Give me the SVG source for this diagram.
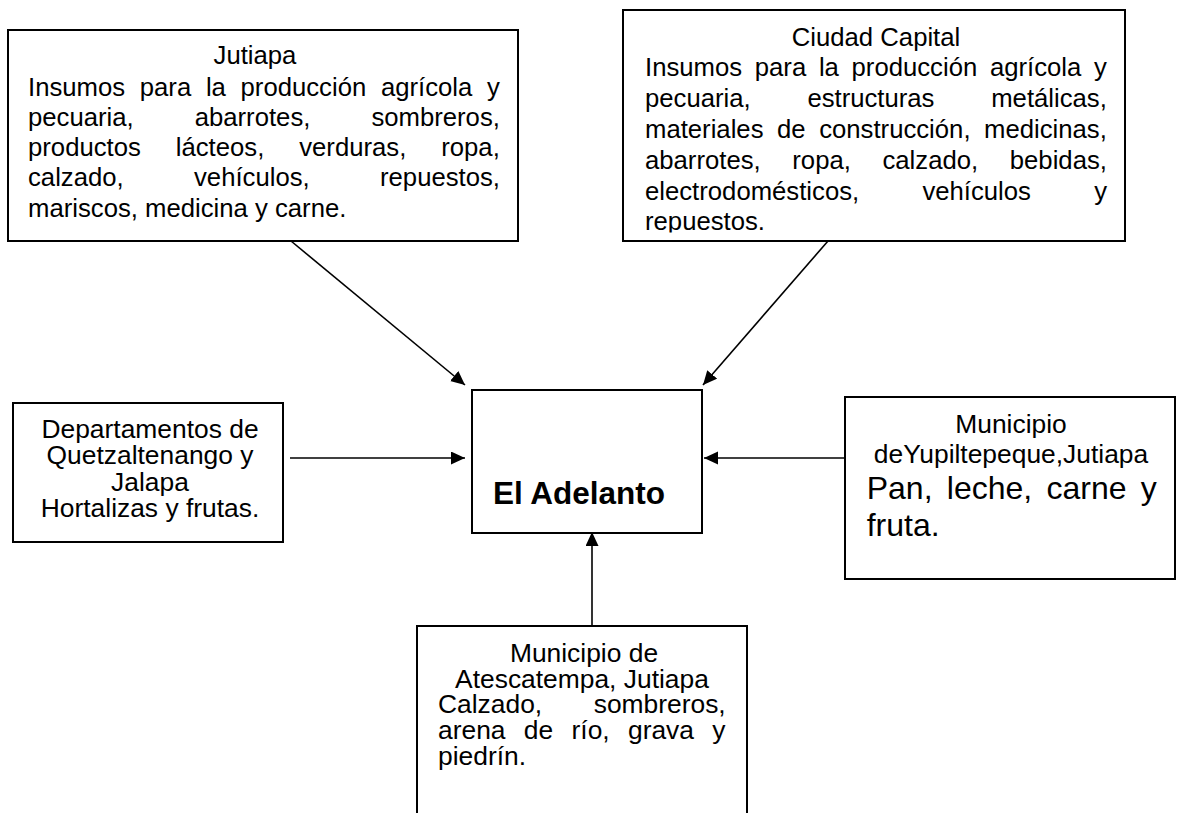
<svg xmlns="http://www.w3.org/2000/svg" width="1179" height="813" viewBox="0 0 1179 813">
<style>
.box{fill:#fff;stroke:#000;stroke-width:2}
.t{font-family:"Liberation Sans",Arial,sans-serif;fill:#000}
.s{font-size:25.7px}
.m{font-size:26.4px}
.c{text-anchor:middle}
.conn line{stroke:#000;stroke-width:1.6;marker-end:url(#ah)}
</style>
<defs>
<marker id="ah" markerUnits="userSpaceOnUse" markerWidth="15" markerHeight="14" refX="14" refY="6.5" orient="auto">
<path d="M0,0 L14,6.5 L0,13 z" fill="#000"/>
</marker>
<clipPath id="clipTR"><rect x="623" y="10" width="502" height="222.5"/></clipPath>
</defs>
<rect width="1179" height="813" fill="#fff"/>
<g id="jutiapa">
<rect class="box" x="8" y="30" width="510" height="211"/>
<text class="t s c" x="255" y="64">Jutiapa</text>
<text class="t s" x="28" y="95.5" word-spacing="7.56">Insumos para la producción agrícola y</text>
<text class="t s" x="28" y="125.8" word-spacing="53.9">pecuaria, abarrotes, sombreros,</text>
<text class="t s" x="28" y="156.1" word-spacing="27.8">productos lácteos, verduras, ropa,</text>
<text class="t s" x="28" y="186.4" word-spacing="63.2">calzado, vehículos, repuestos,</text>
<text class="t s" x="28" y="216.7">mariscos, medicina y carne.</text>
</g>
<g id="ciudad-capital">
<rect class="box" x="623" y="10" width="502" height="231"/>
<g clip-path="url(#clipTR)">
<text class="t s c" x="876" y="45.5">Ciudad Capital</text>
<text class="t s" x="645" y="76.3" word-spacing="5.56">Insumos para la producción agrícola y</text>
<text class="t s" x="645" y="107.1" word-spacing="49.6">pecuaria, estructuras metálicas,</text>
<text class="t s" x="645" y="137.9" word-spacing="6.42">materiales de construcción, medicinas,</text>
<text class="t s" x="645" y="168.7" word-spacing="24.5">abarrotes, ropa, calzado, bebidas,</text>
<text class="t s" x="645" y="199.5" word-spacing="56.1">electrodomésticos, vehículos y</text>
<text class="t s" x="645" y="230.3">repuestos.</text>
</g>
</g>
<g id="quetzaltenango-jalapa">
<rect class="box" x="13" y="403" width="270" height="139"/>
<text class="t m c" x="150" y="438">Departamentos de</text>
<text class="t m c" x="150" y="464">Quetzaltenango y</text>
<text class="t m c" x="150" y="490.5">Jalapa</text>
<text class="t m c" x="150" y="517">Hortalizas y frutas.</text>
</g>
<g id="el-adelanto">
<rect class="box" x="472" y="390" width="230" height="143"/>
<text class="t" x="493" y="504" font-size="31.5" font-weight="bold">El Adelanto</text>
</g>
<g id="yupiltepeque">
<rect class="box" x="845" y="397" width="330" height="182"/>
<text class="t m c" x="1011" y="433">Municipio</text>
<text class="t m c" x="1011" y="463">deYupiltepeque,Jutiapa</text>
<text class="t" x="866.7" y="499" font-size="32" word-spacing="5.4">Pan, leche, carne y</text>
<text class="t" x="866.7" y="536" font-size="32">fruta.</text>
</g>
<g id="atescatempa">
<rect class="box" x="417" y="626" width="330" height="200"/>
<text class="t m c" x="584" y="661.7">Municipio de</text>
<text class="t m c" x="582" y="687.5">Atescatempa, Jutiapa</text>
<text class="t m" x="438" y="713.2" word-spacing="44.2">Calzado, sombreros,</text>
<text class="t m" x="438" y="738.9" word-spacing="11">arena de río, grava y</text>
<text class="t m" x="438" y="764.7">piedrín.</text>
</g>
<g id="connectors" class="conn">
<line x1="291" y1="241" x2="465" y2="385"/>
<line x1="828" y1="241" x2="703" y2="385"/>
<line x1="290" y1="458" x2="465" y2="458"/>
<line x1="846" y1="458" x2="704" y2="458"/>
<line x1="592" y1="626" x2="592" y2="532"/>
</g>
</svg>
